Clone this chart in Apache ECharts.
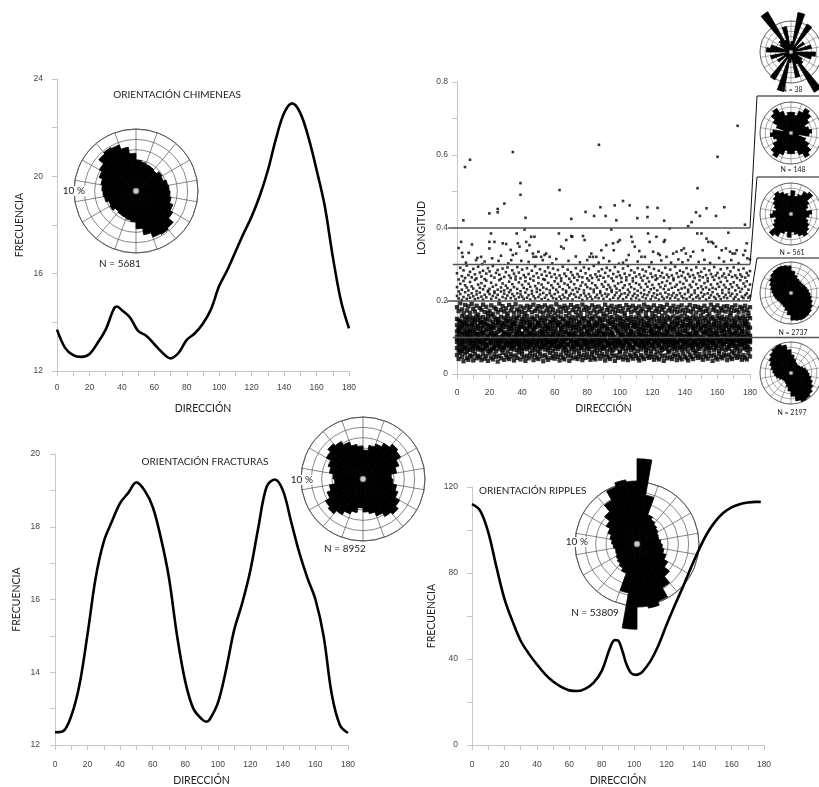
<!DOCTYPE html>
<html><head><meta charset="utf-8">
<script src="https://cdn.jsdelivr.net/npm/echarts@6/dist/echarts.min.js"></script>
<style>html,body{margin:0;padding:0;background:#fff}#c{width:819px;height:787px}</style>
</head><body><div id="c"></div>
<script>
// ---------- DATA ----------
const chimDir = [0,5,10,15,20,25,30,35,37,40,45,50,55,60,65,70,75,80,85,90,95,100,105,110,115,120,125,130,135,140,145,150,155,160,165,170,175,180];
const chimFreq = [13.7,12.95,12.65,12.58,12.7,13.15,13.7,14.55,14.65,14.5,14.2,13.65,13.45,13.1,12.75,12.52,12.75,13.28,13.55,13.95,14.55,15.5,16.15,16.9,17.65,18.35,19.2,20.25,21.55,22.6,23.0,22.6,21.6,20.27,18.8,16.7,14.9,13.75];
const fracDir = [0,5,10,15,20,25,30,35,40,45,50,55,60,65,70,75,80,85,90,93,95,100,105,110,115,120,125,130,135,140,145,150,155,160,165,170,175,180];
const fracFreq = [12.35,12.38,12.8,13.65,15.05,16.6,17.6,18.15,18.65,18.93,19.22,19.0,18.55,17.7,16.6,15.0,13.75,13.0,12.72,12.64,12.7,13.15,14.05,15.15,15.9,16.8,18.0,19.1,19.3,19.0,18.15,17.3,16.6,16.0,15.0,13.4,12.55,12.33];
const ripDir = [0,5,10,15,20,25,30,35,40,45,50,55,60,65,70,75,80,85,88,90,93,95,98,101,103,105,110,115,120,125,130,135,140,145,150,155,160,165,170,175,178];
const ripFreq = [112,109,99,83,68,57.5,48.5,42.5,37.5,33,29.5,27,25.4,25.1,26.2,29,34.5,45,48.8,48.6,43,38,33.5,32.6,33,34,39,46.5,56,65,73.5,82.5,91,98.5,104,108,110.5,112,112.8,113.1,113.1];

const roseBins = ['0','10','20','30','40','50','60','70','80','90','100','110','120','130','140','150','160','170','180','190','200','210','220','230','240','250','260','270','280','290','300','310','320','330','340','350'];
const roseChim = [6.0,5.7,5.5,5.4,5.2,5.8,5.6,6.2,6.4,6.6,6.9,7.6,8.2,9.4,9.7,9.5,8.6,7.3];
const roseFrac = [5.6,6.6,7.2,8.0,8.8,8.4,7.4,6.6,5.5,5.8,6.6,7.2,8.2,8.9,8.4,7.6,6.8,6.4];
const roseRip  = [16.5,9.6,6.0,5.4,5.0,4.7,4.4,4.3,4.6,4.9,5.3,6.0,6.9,8.2,9.8,11.8,12.6,12.2];
const roseN38   = [4,15.5,3,12.5,2.5,6,3,8,0,9.5,8,3,5,6,18,5,10,3];
const roseN148  = [8,7,9,11,10,8,6,7,8,7,3,6,8,10,11,9,7,8];
const roseN561  = [9,7,8,10,11,8,7,6,8,7,6,7,8,9,10,9,8,7];
const roseN2737 = [8.5,7,6,5.6,5.5,5.6,6,6.4,6.8,7.4,8,8.8,9.6,10.4,10.8,11,10.8,10.5];
const roseN2197 = [7,5.5,4.5,4,4,4.3,5,5.8,6.4,7,7.8,8.8,9.8,10.8,11.5,11.8,11,9];

// scatter: one string per degree (0..180), lengths in thousandths, 3 digits each
const lenCols = [
"052071088103117134151183096214238276","041064092109078128147172121207226259","058083067115099139126194145219247291","047076094108062131158177087203231268","035069081112097125143166138211255284",
"056073090118105137152189072224243263","044061086101113129141174156206237297","039078095107068133149185118216229271","051066084116091122157168102209252280","048074098111085138146192133221240265",
"037063089104119127154179076213234288","055070093114082135144171149205258273","043077087109096124159187109218227262","050067099106073132148163127208245294","046072083117088139153181093223236278",
"038065091102111126142176141212249267","054079085113067130156190115204232283","042068097108094137145170084217241260","049075082119079123150184136210256275","036062096105101134158167098225228290",
"057081069110123131147173090219233281","045064092117086128160188112206250269","040070084103098136143165129214239296","053076095112071125155182104222226264","047063088108105133149178081209244277",
"034079091115093140151169140217231285","050068083101077127146193120203257272","043074097119089134157175095226237261","058066086106102122141186132211248289","039071094113074138154171110220229266",
"052078081109099129148180086207242279","046062090116083135159166146215235292","041075087104107124145189101224253270","055069098111080132152174125208230263","048073085118092137143183089219246284",
"037067093102076126156168137213238275","051080089114097139147191106205259267","044065096107084130153177118221233293","059072082117103123160172092210251278","040077091109070136144185130218227262",
"054063084112095128150170108212244286","047070099105081133157181143206236271","036076088118090125146167099223254265","050068094103106140158187122209232290","043074083115073131149176087216247274",
"057079092110100127142184134204239261","049064086106087138155169113220228283","038071097119078124151190096213256268","053066089108104135147173127207241295","045078081113091129159179083225234276",
"041062095101075137143186139211249264","056069087116098132154171105218230287","048075093107082126148183117205245272","035073084114108139156168094222237260","052067099104079123145188131209258281",
"046080090117093134152174100216233269","039065086111072128160182124203250292","058072096105101136144170088221229277","044077082118085125157185142214243266","050063091109096131149176107208236289",
"042070088102080140153166119219254273","055076094115092127146191091206231263","047068085106103133158172135224247285","037074097113077138142184102212239270","053079083119089124155169126205255262",
"045064092108099135150180084217232294","040071087103074129147187116210248275","057066095116097137159173097223228268","049078081111083126143182138207244286","036062098104106132154167110215237261",
"051073089117090139148189093220253279","043069084107076125156175129204230271","059075093112102134145183104218246264","046067086109087128152170121211235290","041080091101079136160186086225257274",
"054063097118095130144178141209233267","048072082105073123157168108216242283","038076090114100138149190099203251265","052065088110084127153176128221229292","044079095103092133146184090214245276",
"056070085116078124158171115207238262","047068092108105139143181134219256288","039074083119088129151167101212234270","053061096106097135155188123205249263","045077089112075126147174087224231296",
"040064094104101132159183137210243273","058071081117086137142169106217236266","050078098109093128154185118208258281","042066087115080140150172092222227269","055073091102099125146179131215246287",
"048069084113074134157166109206239264","037075095107104131148190096220253277","052063090118089127160175125212232291","046080086110077138145182083218244268","041067097105098123152170140204237284",
"057072083116085136156187112225230262","049065092108102129143177100209255274","036076088101079135149168127216241293","051070094119091124158184094223234266","044078085112096133147173119207248280",
"059062099106082139155186088213229270","047074089115107126151171136219252263","040068083109076130144180103205236289","054079096103094137159167122221243275","045064087117088128148189091210257265",
"038071093110100134153176133217231296","053077081104083125146183107224246271","048066098118095140157170116206238284","042073090107074131150187097214254262","056069086114103136142174129220233278",
"050080092102087127155181085208249267","043063084116099133149168139215228290","037075097108079124160185110203245273","052067089113092138147172124222237264","046078085105105129152178089211256286",
"041072094119078135143190118218230269","058065083111097126158169102207247281","049070091103084139154184134216239263","044076088117090132145175095224253293","055064096109101128150182121205232275",
"047079082115076137156167108213244266","039068099106093123148188087221235288","053074087112086134159173130209258270","045062093104100130144180113217229262","040077084118081125153170099204246283",
"057071095110096139147186126220238268","048066090107073131160176091212251277","036080086116104127151183138206233264","051069098102088136145168105223242291","043073083113095124157190117210255272",
"059063092108079133149174093218231265","046078089119102128154181128207248286","041067096105085138143171100215236270","054075081114091126158187123222257262","049070094101077135146177086209239294",
"038064088117106129152169137216245276","052076085109089140155184110204230266","045072097112098123147172096221252283","040065091106074132159188131213234269","056079083118092137144175104208247279",
"048068095103086127150167119219237263","043074087115101134156182088206256290","037062093108080125148173135224231274","053077099111096139153189108211244267","047071084104083130145170098217238285",
"041066090117075136158178127205253271","058080086109105124149186092222229263","050063097114090133155168114210246292","044073082106079128143184139215235276","055069094119100138151175101207257268",
"046075089102087126160181125223240280","039078085113097135146170089212232265","053064096107081131154187116218249289","048070083116094123147173133204237271","042076092110076139158179095221254262",
"057067088104103128144166120209231284","049072099118085134152190106216245274","036079086112092127156176087224236266","052065091105098137149183136211258293","045071084115078125145172112206233270",
"040077097108101132159188099219247277","056063090117089140153169127213239263","047074086103095129147180091205252287","043068093111082136157174118222230268","054080083119104124150185103210244275",
"050066098106088133143171132217237264","038073089114096138155186096208255290","053069095102079127148177121223232272","046076087116100135160167108214246281","041062092109086130146183089220238266",
"058078084107093126152173134206251292","049071096113077139144188114211229270","044067091118105131157175098218243263","055075083104090128149169126204236285","047064099110082137154184093225257273",
"039079088115097125146180117212233267","052070094101084133158171105208248289","045072085117101140151187137216240264","040066097108078129145176090221254277","057074089112095136159168124209231270",
"048068092105087127153183100214245282"
];
// sparse points above 0.3 [direction, length]
const upperPts = [
[3.9,0.421],[4.9,0.567],[8.0,0.587],[19.9,0.440],[25.0,0.452],[25.0,0.443],[29.1,0.467],[34.3,0.608],[39.0,0.523],[39.0,0.491],[42.1,0.428],[63.0,0.504],[70.2,0.425],[79.0,0.444],[84.2,0.433],[87.2,0.628],[88.1,0.457],[91.3,0.433],[96.9,0.462],[97.9,0.421],[102,0.474],[106.1,0.462],[110.8,0.427],[117,0.457],[117,0.430],[123.2,0.455],[127.3,0.420],[142,0.405],[144.1,0.416],[146.8,0.443],[147.8,0.509],[149.2,0.433],[153.3,0.454],[159.1,0.433],[160.1,0.595],[164.2,0.457],[172.4,0.680],[176.9,0.409],
[2.5,0.362],[3.1,0.332],[3.5,0.321],[7.2,0.332],[9.2,0.355],[11.7,0.312],[14.8,0.321],[19.9,0.362],[20.9,0.385],[19.9,0.344],[21.6,0.317],[23.0,0.362],[28.1,0.358],[30.2,0.356],[33.3,0.312],[34.3,0.326],[36.3,0.330],[36.7,0.385],[37.4,0.358],[38.4,0.349],[41.5,0.396],[42.5,0.362],[42.9,0.338],[44.5,0.353],[45.6,0.376],[46.6,0.330],[47.0,0.321],[47.6,0.376],[48.6,0.321],[51.7,0.321],[52.7,0.312],[53.8,0.326],[54.8,0.330],[56.9,0.321],[62.6,0.385],[64.0,0.349],[65.5,0.344],[67.1,0.367],[70.2,0.378],[70.8,0.376],[77.4,0.378],[78.4,0.367],[81.5,0.321],[82.5,0.330],[83.5,0.321],[85.6,0.321],[88.7,0.339],[91.7,0.353],[94.8,0.396],[95.9,0.358],[96.3,0.339],[98.9,0.362],[100.0,0.367],[104.1,0.312],[107.1,0.376],[107.8,0.362],[109.2,0.349],[113.3,0.321],[115.4,0.321],[117.4,0.385],[118.4,0.362],[120.5,0.335],[122.5,0.376],[123.6,0.330],[124.6,0.326],[127.1,0.362],[127.7,0.367],[128.7,0.321],[130.7,0.399],[132.8,0.330],[134.9,0.335],[137.9,0.339],[139.4,0.344],[140.6,0.330],[142.0,0.312],[145.1,0.335],[147.6,0.385],[150.2,0.385],[150.9,0.339],[153.3,0.371],[154.4,0.362],[156.4,0.362],[157.4,0.358],[159.1,0.349],[162.6,0.339],[165.2,0.344],[166.7,0.387],[167.7,0.335],[169.3,0.330],[170.8,0.330],[171.8,0.339],[175.9,0.326],[178.0,0.358],[178.4,0.317],[180.0,0.314],
[5.5,0.305],[12.5,0.318],[17,0.308],[25.5,0.31],[27,0.324],[31.5,0.303],[39.5,0.31],[44,0.307],[50,0.335],[58.5,0.303],[61,0.315],[68.5,0.31],[73,0.322],[75.5,0.306],[80,0.312],[87,0.305],[90,0.318],[93.5,0.309],[102,0.305],[105.5,0.326],[111,0.308],[112,0.337],[119.5,0.306],[125.5,0.311],[131.5,0.305],[136,0.314],[143.5,0.322],[148.5,0.307],[152,0.313],[155.5,0.304],[161,0.318],[164,0.308],[168.5,0.312],[173,0.303],[177,0.338],[1.0,0.345],[15.5,0.301],[33,0.34],[99.5,0.302],[138.5,0.306]
];
const bandEdges = [0.4, 0.3, 0.2, 0.1];

// ---------- BUILD ----------
const densePts = [], midPts = [];
lenCols.forEach((s, d) => {
  for (let i = 0; i + 3 <= s.length; i += 3) {
    const v = parseInt(s.substr(i, 3), 10) / 1000;
    (v < 0.2 ? densePts : midPts).push([d, v]);
  }
});
const pairs = (xs, ys) => xs.map((x, i) => [x, ys[i]]);
const mirror = a => a.concat(a);

const AX = '#c6c6c6';
const lblFont = {fontSize: 8.5, color: '#444', fontFamily: 'Liberation Sans'};
const nameFont = {fontSize: 10.5, color: '#222', fontFamily: 'Lato'};
function xAx(gi, margin, gap) {
  return {type: 'value', gridIndex: gi, min: 0, max: 180, interval: 20,
    name: 'DIRECCIÓN', nameLocation: 'middle', nameGap: gap, nameTextStyle: nameFont,
    axisLine: {lineStyle: {color: AX}}, axisTick: {length: 5, lineStyle: {color: AX}},
    minorTick: {show: true, splitNumber: 2, length: 5, lineStyle: {color: AX}},
    axisLabel: Object.assign({margin: margin}, lblFont), splitLine: {show: false}};
}
function yAx(gi, min, max, interval, name, margin, gap) {
  return {type: 'value', gridIndex: gi, min: min, max: max, interval: interval,
    name: name, nameLocation: 'middle', nameGap: gap, nameTextStyle: nameFont,
    axisLine: {show: true, lineStyle: {color: AX}}, axisTick: {show: true, length: 5, lineStyle: {color: AX}},
    minorTick: {show: true, splitNumber: 2, length: 5, lineStyle: {color: AX}},
    axisLabel: Object.assign({margin: margin}, lblFont), splitLine: {show: false}};
}

const roses = [
  {c: [136, 191], r: 62, d: roseChim, big: true},
  {c: [363, 479], r: 62, d: roseFrac, big: true},
  {c: [637, 544], r: 62, d: roseRip, big: true},
  {c: [791, 52], r: 31, d: roseN38},
  {c: [791, 133], r: 31, d: roseN148},
  {c: [791, 214], r: 31, d: roseN561},
  {c: [791, 293], r: 31, d: roseN2737},
  {c: [791, 373], r: 31, d: roseN2197}
];

const series = [
  {type: 'line', xAxisIndex: 0, yAxisIndex: 0, data: pairs(chimDir, chimFreq), smooth: 0.35, symbol: 'none', lineStyle: {color: '#000', width: 2.6}},
  {type: 'scatter', xAxisIndex: 1, yAxisIndex: 1, data: densePts, symbol: 'rect', symbolSize: 4.3, itemStyle: {color: '#000'}, silent: true},
  {type: 'scatter', xAxisIndex: 1, yAxisIndex: 1, data: midPts, symbol: 'rect', symbolSize: 2.6, itemStyle: {color: '#000'}, silent: true},
  {type: 'scatter', xAxisIndex: 1, yAxisIndex: 1, data: upperPts, symbol: 'rect', symbolSize: 2.6, itemStyle: {color: '#000'}, silent: true},
  {type: 'line', xAxisIndex: 2, yAxisIndex: 2, data: pairs(fracDir, fracFreq), smooth: 0.35, symbol: 'none', lineStyle: {color: '#000', width: 2.6}},
  {type: 'line', xAxisIndex: 3, yAxisIndex: 3, data: pairs(ripDir, ripFreq), smooth: 0.35, symbol: 'none', lineStyle: {color: '#000', width: 2.6}}
];
roses.forEach((p, i) => {
  series.push({type: 'bar', coordinateSystem: 'polar', polarIndex: i, data: mirror(p.d), barCategoryGap: '0%', itemStyle: {color: '#000', borderColor: '#000', borderWidth: 0.8}, clip: false, silent: true, z: 3});
  series.push({type: 'scatter', coordinateSystem: 'polar', polarIndex: i, data: [[0, 0]], symbol: 'circle', symbolSize: p.big ? 5.5 : 3.5, itemStyle: {color: '#fff', borderColor: '#888', borderWidth: 1.2}, silent: true, z: 5});
});

const option = {
  animation: false,
  backgroundColor: '#fff',
  grid: [
    {left: 57, top: 79, width: 292, height: 292},
    {left: 457, top: 82, width: 293, height: 292},
    {left: 55, top: 454, width: 293, height: 293},
    {left: 472, top: 487, width: 292, height: 260}
  ],
  xAxis: [xAx(0, 12, 32), xAx(1, 14, 29), xAx(2, 15, 30), xAx(3, 15, 30)],
  yAxis: [
    yAx(0, 12, 24, 4, 'FRECUENCIA', 14, 32),
    yAx(1, 0, 0.8, 0.2, 'LONGITUD', 9, 30),
    yAx(2, 12, 20, 2, 'FRECUENCIA', 15, 33),
    yAx(3, 0, 120, 40, 'FRECUENCIA', 14, 35)
  ],
  polar: roses.map(p => ({center: p.c, radius: p.r})),
  angleAxis: roses.map((p, i) => ({polarIndex: i, type: 'category', data: roseBins, startAngle: 90, clockwise: true, boundaryGap: true,
    axisLine: {show: true, lineStyle: {color: '#444', width: p.big ? 0.8 : 0.6}}, axisTick: {show: false}, axisLabel: {show: false},
    splitLine: {show: true, lineStyle: {color: '#555', width: p.big ? 0.7 : 0.5}}})),
  radiusAxis: roses.map((p, i) => ({polarIndex: i, type: 'value', min: 0, max: 12, interval: 2,
    axisLine: {show: false}, axisTick: {show: false}, axisLabel: {show: false},
    splitLine: {show: true, lineStyle: {color: '#555', width: p.big ? 0.7 : 0.5}}})),
  series: series
};

const chart = echarts.init(document.getElementById('c'), null, {renderer: 'canvas', width: 819, height: 787});
chart.setOption(option);

// ---------- ANNOTATIONS ----------
function txt(t, x, y, size, align, bg) {
  const st = {text: t, fontSize: size, fontFamily: 'Lato', fill: '#222', align: align || 'center', verticalAlign: 'middle'};
  if (bg) { st.backgroundColor = '#fff'; st.padding = [0, 1]; }
  return {type: 'text', x: x, y: y, z: 100, silent: true, style: st};
}
const g = [
  txt('ORIENTACIÓN CHIMENEAS', 177, 95, 10),
  txt('N = 5681', 120, 264, 10),
  txt('10 %', 86, 191, 10, 'right', true),
  txt('ORIENTACIÓN FRACTURAS', 205, 462, 10),
  txt('10 %', 314, 480, 10, 'right', true),
  txt('N = 8952', 345, 549, 10),
  txt('ORIENTACIÓN RIPPLES', 479, 491, 10, 'left'),
  txt('10 %', 589, 542, 10, 'right', true),
  txt('N = 53809', 595, 613, 10),
  txt('N = 38', 792, 90, 7),
  txt('N = 148', 793, 170, 7),
  txt('N = 561', 792, 253, 7),
  txt('N = 2737', 793, 333, 7),
  txt('N = 2197', 792, 413, 7)
];
const startOff = [9, 4, 10, 4];
const sepY = [96, 177, 258, null];
bandEdges.forEach((v, i) => {
  const a = chart.convertToPixel({gridIndex: 1}, [0, v]);
  const b = chart.convertToPixel({gridIndex: 1}, [180, v]);
  const endX = sepY[i] == null ? 819 : b[0];
  g.push({type: 'line', z: 100, silent: true, shape: {x1: a[0] - startOff[i], y1: a[1], x2: endX, y2: b[1]}, style: {stroke: '#555', lineWidth: 1.3}});
  if (sepY[i] != null) {
    g.push({type: 'polyline', z: 100, silent: true, shape: {points: [[b[0], b[1]], [b[0] + 7, sepY[i]], [819, sepY[i]]]}, style: {stroke: '#111', lineWidth: 1, fill: null}});
  }
});
chart.setOption({graphic: g});
</script>
</body></html>
